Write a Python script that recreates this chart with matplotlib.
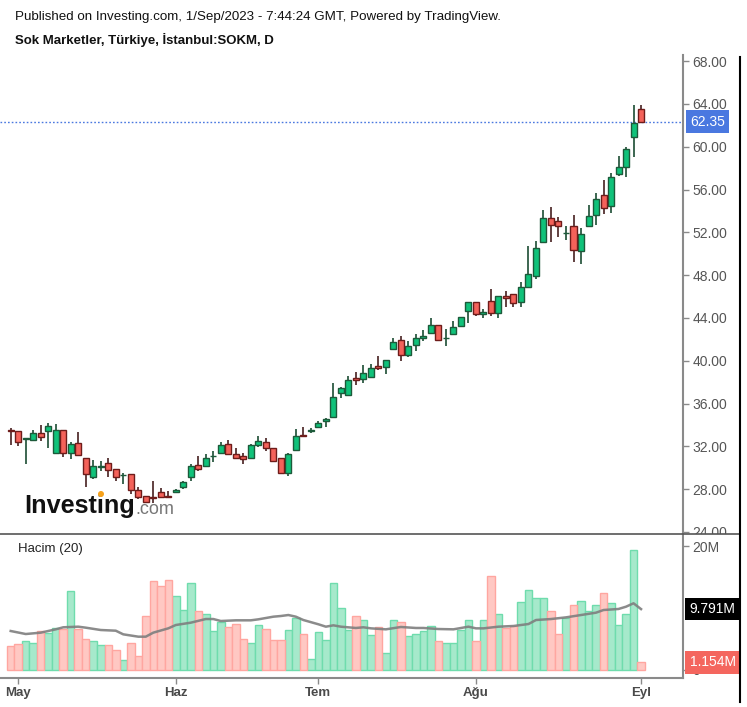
import matplotlib
matplotlib.use("Agg")
import matplotlib.pyplot as plt
from matplotlib.lines import Line2D
from matplotlib.patches import Rectangle, Ellipse
import numpy as np

plt.rcParams['font.family'] = ['Liberation Sans', 'DejaVu Sans']

# ---------------- data ----------------
opens = [33.5, 33.4, 32.7, 32.6, 33.2, 33.4, 31.4, 33.5, 31.4, 32.3,
         30.9, 29.1, 30.1, 30.4, 29.9, 29.3, 29.45, 27.9, 27.4, 27.3,
         27.7, 27.4, 27.7, 28.15, 29.1, 30.25, 30.2, 31.1, 31.35, 32.25,
         31.3, 31.05, 30.95, 32.1, 32.4, 31.85, 30.95, 29.55, 31.7, 33.1,
         33.45, 33.85, 34.35, 34.75, 37.0, 36.8, 38.4, 38.3, 38.5, 39.55,
         39.4, 41.05, 41.95, 40.55, 41.5, 42.1, 42.6, 43.3, 42.1, 42.5,
         43.2, 44.6, 45.5, 44.4, 45.6, 44.5, 46.05, 46.2, 45.5, 46.9,
         47.95, 51.1, 53.3, 53.1, 51.9, 52.6, 50.25, 52.6, 53.6, 55.45,
         54.45, 57.45, 58.1, 60.95, 63.5]
highs = [33.67, 33.4, 32.75, 33.5, 34.0, 34.2, 34.1, 33.5, 32.4, 33.3,
         30.9, 30.7, 30.6, 30.9, 29.9, 29.5, 29.45, 28.2, 27.4, 28.8,
         28.1, 27.8, 28.0, 28.8, 30.3, 31.1, 31.25, 31.55, 32.4, 32.6,
         31.85, 31.4, 32.2, 32.95, 32.8, 31.85, 30.95, 31.4, 33.6, 33.85,
         33.75, 34.35, 34.6, 37.9, 37.55, 38.55, 38.9, 39.6, 39.7, 40.4,
         40.1, 42.1, 42.35, 41.8, 42.5, 42.85, 44.0, 43.3, 42.95, 43.7,
         44.1, 45.45, 45.5, 44.85, 46.7, 46.05, 46.55, 46.2, 47.4, 50.75,
         51.15, 54.05, 54.4, 53.4, 52.55, 53.6, 52.4, 54.55, 55.65, 56.9,
         57.5, 59.15, 60.0, 63.9, 63.9]
lows = [32.1, 32.0, 30.3, 32.6, 32.5, 31.8, 31.4, 31.0, 30.8, 31.2,
        28.2, 28.9, 29.7, 29.1, 28.8, 28.5, 27.5, 27.05, 26.7, 26.7,
        27.2, 27.2, 27.6, 28.05, 28.8, 29.7, 30.15, 30.5, 31.25, 31.15,
        30.8, 30.3, 30.95, 31.95, 31.55, 30.5, 29.55, 29.2, 31.7, 32.95,
        33.2, 33.85, 33.85, 34.75, 36.55, 36.8, 37.7, 37.95, 38.4, 39.15,
        38.8, 41.05, 40.0, 40.35, 40.95, 41.8, 42.45, 41.9, 41.4, 42.45,
        43.2, 43.55, 44.15, 44.0, 44.15, 44.0, 45.0, 45.0, 45.0, 46.9,
        47.6, 51.1, 51.05, 51.6, 51.3, 49.2, 49.05, 52.55, 52.7, 53.7,
        53.85, 57.3, 57.2, 59.0, 62.35]
closes = [33.4, 32.4, 32.7, 33.2, 32.9, 33.9, 33.5, 31.4, 32.2, 31.2,
          29.4, 30.2, 30.1, 29.75, 29.1, 29.3, 27.9, 27.3, 26.8, 27.2,
          27.3, 27.3, 27.9, 28.7, 30.2, 29.9, 30.95, 31.1, 32.1, 31.3,
          30.95, 30.85, 32.1, 32.45, 31.85, 30.65, 29.55, 31.3, 32.95, 32.95,
          33.45, 34.2, 34.55, 36.6, 37.47, 38.15, 38.15, 38.85, 39.35, 39.35,
          40.1, 41.75, 40.55, 41.4, 42.1, 42.35, 43.3, 41.9, 42.1, 43.15,
          44.1, 45.45, 44.4, 44.55, 44.45, 46.05, 45.85, 45.4, 46.9, 48.1,
          50.55, 53.3, 52.7, 52.6, 51.9, 50.35, 51.8, 53.55, 55.1, 54.25,
          57.15, 58.1, 59.75, 62.25, 62.35]
volumes = [3.8, 4.1, 4.6, 4.35, 6.2, 5.85, 6.8, 6.5, 12.7, 6.55,
           4.9, 4.6, 3.95, 3.95, 3.15, 1.55, 4.35, 2.2, 8.7, 14.35,
           13.5, 14.5, 11.9, 9.65, 14.1, 9.5, 9.0, 6.2, 7.75, 6.85,
           7.4, 4.95, 4.35, 7.2, 6.55, 4.8, 4.8, 6.4, 8.4, 5.75,
           1.7, 6.0, 4.8, 14.1, 10.0, 6.4, 8.7, 8.0, 5.6, 6.85,
           2.7, 8.0, 7.65, 5.4, 5.75, 6.2, 7.1, 4.6, 4.35, 4.35,
           6.4, 8.0, 4.6, 8.0, 15.15, 9.0, 6.8, 7.1, 10.9, 12.9,
           11.65, 11.65, 9.5, 5.75, 8.4, 10.45, 11.1, 9.5, 10.45, 12.35,
           10.7, 7.2, 9.0, 19.4, 1.154]
# 20-period volume average (bar index, value in M)
ma_idx = [0, 2, 4, 6, 7, 9, 10, 12, 14, 15, 17, 18, 19, 21, 22, 24, 26, 27, 28, 30,
          32, 33, 35, 36, 37, 38, 39, 41, 42, 43, 44, 46, 47, 48, 50, 52, 54, 55, 57, 59,
          61, 62, 63, 65, 67, 69, 70, 72, 74, 76, 78, 79, 81, 82, 83, 84]
ma_vals = [6.24, 5.75, 5.97, 6.51, 6.84, 6.94, 6.78, 6.40, 6.29, 5.70, 5.32, 5.32, 5.97, 6.67, 7.21, 7.59, 8.18, 8.18, 7.86, 7.97,
           7.97, 8.13, 8.56, 8.67, 8.83, 8.56, 8.02, 7.33, 6.94, 7.16, 6.94, 6.73, 6.84, 6.67, 6.51, 6.89, 6.73, 6.73, 6.56, 6.51,
           6.94, 6.67, 6.67, 6.94, 7.05, 7.37, 8.02, 8.18, 8.45, 8.83, 9.21, 9.64, 9.81, 10.18, 10.73, 9.791]
date_tick_idx = [1, 22, 41, 62, 84]
date_tick_labels = ['May', 'Haz', 'Tem', 'Ağu', 'Eyl']
price_ticks = [24, 28, 32, 36, 40, 44, 48, 52, 56, 60, 64, 68]
vol_ticks = [0, 20]
vol_tick_labels = ['0', '20M']

title_line1 = "Published on Investing.com, 1/Sep/2023 - 7:44:24 GMT, Powered by TradingView."
title_line2 = "Sok Marketler, Türkiye, İstanbul:SOKM, D"

# ---------------- figure ----------------
W, H = 747, 707
fig = plt.figure(figsize=(W / 100, H / 100), dpi=100)

def fx(x):
    return x / W

def fy(y):
    return 1 - y / H

axis_x = 682.7
main_top, main_bot = 55, 534
vol_top, vol_bot = 534, 678.3

ax = fig.add_axes([0, fy(main_bot), fx(axis_x), (main_bot - main_top) / H])
axv = fig.add_axes([0, fy(vol_bot), fx(axis_x), (vol_bot - vol_top) / H], sharex=ax)

o = np.array(opens); h = np.array(highs); l = np.array(lows); c = np.array(closes)
v = np.array(volumes)
idx = np.arange(len(o))
up = c >= o

up_body, up_edge, up_wick = '#10c27a', '#1c5a3a', '#2d5a43'
dn_body, dn_edge, dn_wick = '#f4625a', '#6e1c1a', '#553232'

ax.vlines(idx[up], l[up], h[up], color=up_wick, lw=1.3, zorder=2)
ax.vlines(idx[~up], l[~up], h[~up], color=dn_wick, lw=1.3, zorder=2)
body_h = np.maximum(np.abs(c - o), 0.04)
body_b = np.minimum(o, c)
ax.bar(idx[up], body_h[up], bottom=body_b[up], width=0.8, color=up_body,
       edgecolor=up_edge, linewidth=1.0, zorder=3)
ax.bar(idx[~up], body_h[~up], bottom=body_b[~up], width=0.8, color=dn_body,
       edgecolor=dn_edge, linewidth=1.0, zorder=3)

last = closes[-1]
ax.axhline(last, color='#4a78e0', lw=1.0, ls=(0, (1.2, 1.5)), zorder=1)

x_left = -10.7 / 7.504
x_right = x_left + axis_x / 7.504
ax.set_xlim(x_left, x_right)
ax.set_ylim(68 - (main_bot - 61.1) / 10.70, 68 + (61.1 - main_top) / 10.70)

for s in ['left', 'top', 'bottom']:
    ax.spines[s].set_visible(False)
ax.spines['right'].set_color('#8a8a8a')
ax.spines['right'].set_linewidth(1.5)
ax.yaxis.tick_right()
ax.set_yticks(price_ticks)
ax.set_yticklabels([f'{t:.2f}' for t in price_ticks])
ax.tick_params(axis='y', colors='#8a8a8a', labelcolor='#555555', labelsize=10,
               length=4, width=1, pad=3, direction='out')
ax.tick_params(axis='x', bottom=False, labelbottom=False)

ax.annotate(f'{last:.2f}', xy=(1, last), xycoords=('axes fraction', 'data'),
            xytext=(5.5, 0), textcoords='offset points', ha='left', va='center',
            color='white', fontsize=10,
            bbox=dict(boxstyle='square,pad=0.3', fc='#4a78e0', ec='none'),
            annotation_clip=False, zorder=10)

# volume pane
vol_up_fc, vol_up_ec = '#a6e9cb', '#6fdcad'
vol_dn_fc, vol_dn_ec = '#ffc8c3', '#ffa6a0'
axv.bar(idx[up], v[up], width=1.0, color=vol_up_fc, edgecolor=vol_up_ec, linewidth=1.0, zorder=2)
axv.bar(idx[~up], v[~up], width=1.0, color=vol_dn_fc, edgecolor=vol_dn_ec, linewidth=1.0, zorder=2)
axv.plot(ma_idx, ma_vals, color='#7f7f7f', lw=1.8, alpha=0.9, zorder=3)
axv.set_ylim(-(vol_bot - 669.5) / 6.17, (669.5 - vol_top) / 6.17)
for s in ['left', 'top']:
    axv.spines[s].set_visible(False)
for s in ['right', 'bottom']:
    axv.spines[s].set_color('#8a8a8a')
    axv.spines[s].set_linewidth(1.5)
axv.yaxis.tick_right()
axv.set_yticks(vol_ticks)
axv.set_yticklabels(vol_tick_labels)
axv.tick_params(axis='y', colors='#8a8a8a', labelcolor='#555555', labelsize=10,
                length=4, width=1, pad=3, direction='out')
axv.set_xticks(date_tick_idx)
axv.set_xticklabels(date_tick_labels, fontweight='bold')
axv.tick_params(axis='x', colors='#8a8a8a', labelcolor='#4a4a4a', labelsize=9.5,
                length=4, width=1, pad=2, direction='out')
axv.text(18 / axis_x, 1 - (549 - vol_top) / (vol_bot - vol_top), 'Hacim (20)',
         transform=axv.transAxes, fontsize=9.5, color='#222222', va='center', ha='left')

ma_last = ma_vals[-1]
axv.annotate(f'{ma_last:.3f}M', xy=(1, ma_last), xycoords=('axes fraction', 'data'),
             xytext=(5, 0), textcoords='offset points', ha='left', va='center',
             color='white', fontsize=10,
             bbox=dict(boxstyle='square,pad=0.3', fc='#000000', ec='none'),
             annotation_clip=False, zorder=10)
vlast = volumes[-1]
axv.annotate(f'{vlast:.3f}M', xy=(1, vlast), xycoords=('axes fraction', 'data'),
             xytext=(5, 0), textcoords='offset points', ha='left', va='center',
             color='white', fontsize=10,
             bbox=dict(boxstyle='square,pad=0.3', fc='#f4665e', ec='none'),
             annotation_clip=False, zorder=10)

# cover lower half of clipped 24.00 label
fig.add_artist(Rectangle((fx(axis_x + 1), fy(540)), fx(738 - axis_x - 1), (540 - 534) / H,
                         transform=fig.transFigure, fc='white', ec='none', zorder=5))
# pane separator and right border
fig.add_artist(Line2D([0, fx(739)], [fy(534), fy(534)], color='#555555', lw=1.2, zorder=6))
fig.add_artist(Line2D([fx(739.5), fx(739.5)], [fy(57), fy(702)], color='#000000', lw=1.5, zorder=6))

# header
fig.text(fx(15), fy(17), title_line1, fontsize=9.6, color='#111111', va='center', ha='left')
fig.text(fx(15), fy(40), title_line2, fontsize=9.5, fontweight='bold', color='#111111',
         va='center', ha='left')

# watermark
fig.text(fx(24), fy(506), 'Investing', fontsize=18.2, fontweight='bold', color='#111111',
         va='center', ha='left', zorder=4)
fig.text(fx(135), fy(509), '.com', fontsize=13, color='#777777', va='center', ha='left', zorder=4)
fig.add_artist(Ellipse((fx(101), fy(494)), 6 / W, 6 / H, transform=fig.transFigure,
                       fc='#f7a21b', ec='none', zorder=7))

fig.savefig('out.png', dpi=100)
